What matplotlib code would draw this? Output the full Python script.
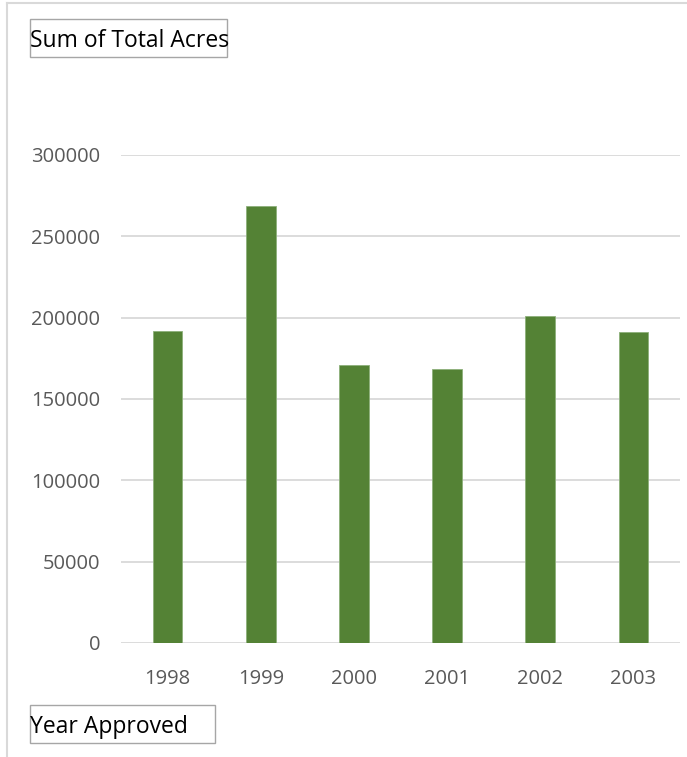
import numpy as np
import matplotlib
matplotlib.use('Agg')
import matplotlib.pyplot as plt
from matplotlib.patches import Rectangle
from matplotlib.lines import Line2D

years = ['1998', '1999', '2000', '2001', '2002', '2003']
acres = [191800, 268700, 170900, 168600, 201000, 191200]
y_ticks = [0, 50000, 100000, 150000, 200000, 250000, 300000]

plt.rcParams['font.family'] = ['Open Sans', 'DejaVu Sans']

W, H = 687, 757
fig = plt.figure(figsize=(W / 100, H / 100), dpi=100)

def fx(px):
    return px / W

def fy(py):
    return 1 - py / H

ax = fig.add_axes([fx(121), fy(643), fx(680) - fx(121), fy(155) - fy(643)])
x = np.arange(len(years))
ax.bar(x, acres, width=0.32, color='#548235', edgecolor='#8db07a', linewidth=0.6, zorder=3)
ax.set_xlim(-0.5, len(years) - 0.5)
ax.set_ylim(0, 300000)
ax.set_yticks(y_ticks)
ax.set_yticklabels([str(v) for v in y_ticks])
ax.set_xticks(x)
ax.set_xticklabels(years)
ax.grid(axis='y', color='#d9d9d9', linewidth=1.3, zorder=0)
for s in ax.spines.values():
    s.set_visible(False)
ax.tick_params(length=0, labelsize=14.5, labelcolor='#595959')
ax.tick_params(axis='y', pad=15)
ax.tick_params(axis='x', pad=19)

# chart area frame (top and left edges visible)
fig.add_artist(Line2D([fx(7), fx(7)], [fy(3), 0], color='#d9d9d9', linewidth=1.5))
fig.add_artist(Line2D([fx(7), 1], [fy(3), fy(3)], color='#d9d9d9', linewidth=1.5))

# field buttons
def field_box(x0, y0, x1, y1, label):
    fig.add_artist(Rectangle((fx(x0), fy(y1)), fx(x1) - fx(x0), fy(y0) - fy(y1),
                             transform=fig.transFigure, facecolor='white',
                             edgecolor='#a6a6a6', linewidth=1.0))
    fig.text(fx(x0 + 1), fy((y0 + y1) / 2 + 3), label, fontsize=16.5, color='black',
             ha='left', va='center')

field_box(29.5, 19.5, 227, 57, 'Sum of Total Acres')
field_box(29.5, 705, 214.5, 742.5, 'Year Approved')

fig.savefig('out.png', dpi=100)
